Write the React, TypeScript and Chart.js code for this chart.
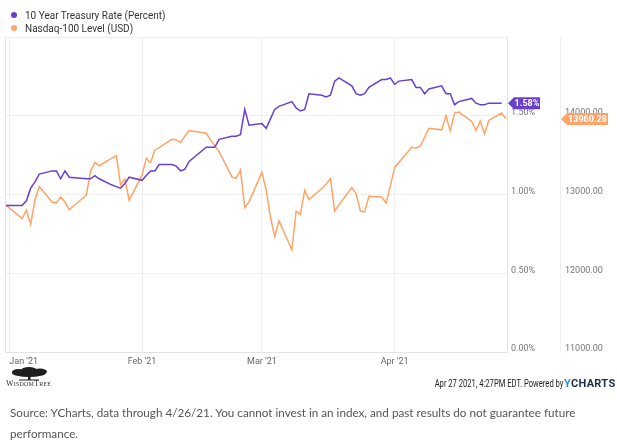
import React, { useEffect, useRef } from "react";
import { Chart, registerables } from "chart.js";

Chart.register(...registerables);

// ---------------- DATA ----------------
const treasuryDates = [
  "2020-12-31",
  "2021-01-04", "2021-01-05", "2021-01-06", "2021-01-07", "2021-01-08",
  "2021-01-11", "2021-01-12", "2021-01-13", "2021-01-14", "2021-01-15",
  "2021-01-19", "2021-01-20", "2021-01-21", "2021-01-22",
  "2021-01-25", "2021-01-26", "2021-01-27", "2021-01-28", "2021-01-29",
  "2021-02-01", "2021-02-02", "2021-02-03", "2021-02-04", "2021-02-05",
  "2021-02-08", "2021-02-09", "2021-02-10", "2021-02-11", "2021-02-12",
  "2021-02-16", "2021-02-17", "2021-02-18", "2021-02-19",
  "2021-02-22", "2021-02-23", "2021-02-24", "2021-02-25", "2021-02-26",
  "2021-03-01", "2021-03-02", "2021-03-03", "2021-03-04", "2021-03-05",
  "2021-03-08", "2021-03-09", "2021-03-10", "2021-03-11", "2021-03-12",
  "2021-03-15", "2021-03-16", "2021-03-17", "2021-03-18", "2021-03-19",
  "2021-03-22", "2021-03-23", "2021-03-24", "2021-03-25", "2021-03-26",
  "2021-03-29", "2021-03-30", "2021-03-31", "2021-04-01", "2021-04-02",
  "2021-04-05", "2021-04-06", "2021-04-07", "2021-04-08", "2021-04-09",
  "2021-04-12", "2021-04-13", "2021-04-14", "2021-04-15", "2021-04-16",
  "2021-04-19", "2021-04-20", "2021-04-21", "2021-04-22", "2021-04-23",
  "2021-04-26",
];
const treasuryValues = [
  0.93,
  0.93, 0.96, 1.04, 1.08, 1.13,
  1.15, 1.15, 1.10, 1.15, 1.11,
  1.10, 1.10, 1.12, 1.10,
  1.06, 1.05, 1.04, 1.07, 1.11,
  1.09, 1.12, 1.15, 1.15, 1.19,
  1.19, 1.18, 1.15, 1.16, 1.21,
  1.30, 1.30, 1.30, 1.35,
  1.37, 1.37, 1.38, 1.54, 1.44,
  1.45, 1.42, 1.48, 1.54, 1.56,
  1.59, 1.55, 1.53, 1.54, 1.64,
  1.63, 1.62, 1.63, 1.72, 1.74,
  1.69, 1.64, 1.63, 1.64, 1.68,
  1.73, 1.73, 1.74, 1.70, 1.72,
  1.73, 1.68, 1.68, 1.64, 1.67,
  1.69, 1.64, 1.64, 1.57, 1.59,
  1.61, 1.58, 1.57, 1.57, 1.58,
  1.58,
];

const nasdaqDates = [
  "2020-12-31",
  "2021-01-04", "2021-01-05", "2021-01-06", "2021-01-07", "2021-01-08",
  "2021-01-11", "2021-01-12", "2021-01-13", "2021-01-14", "2021-01-15",
  "2021-01-19", "2021-01-20", "2021-01-21", "2021-01-22",
  "2021-01-25", "2021-01-26", "2021-01-27", "2021-01-28", "2021-01-29",
  "2021-02-01", "2021-02-02", "2021-02-03", "2021-02-04", "2021-02-05",
  "2021-02-08", "2021-02-09", "2021-02-10", "2021-02-11", "2021-02-12",
  "2021-02-16", "2021-02-17", "2021-02-18", "2021-02-19",
  "2021-02-22", "2021-02-23", "2021-02-24", "2021-02-25", "2021-02-26",
  "2021-03-01", "2021-03-02", "2021-03-03", "2021-03-04", "2021-03-05",
  "2021-03-08", "2021-03-09", "2021-03-10", "2021-03-11", "2021-03-12",
  "2021-03-15", "2021-03-16", "2021-03-17", "2021-03-18", "2021-03-19",
  "2021-03-22", "2021-03-23", "2021-03-24", "2021-03-25", "2021-03-26",
  "2021-03-29", "2021-03-30", "2021-03-31", "2021-04-01",
  "2021-04-05", "2021-04-06", "2021-04-07", "2021-04-08", "2021-04-09",
  "2021-04-12", "2021-04-13", "2021-04-14", "2021-04-15", "2021-04-16",
  "2021-04-19", "2021-04-20", "2021-04-21", "2021-04-22", "2021-04-23",
  "2021-04-26", "2021-04-27",
];
const nasdaqValues = [
  12876,
  12694, 12800, 12621, 12930, 13100,
  12905, 12893, 12969, 12905, 12808,
  12991, 13301, 13408, 13365,
  13463, 13492, 13119, 13195, 12927,
  13246, 13459, 13404, 13566, 13595,
  13701, 13693, 13659, 13740, 13812,
  13777, 13693, 13620, 13544,
  13224, 13204, 13310, 12834, 12906,
  13281, 13055, 12714, 12468, 12663,
  12298, 12790, 12748, 13055, 12936,
  13076, 13132, 13204, 12790, 12868,
  13088, 13012, 12790, 12778, 12978,
  12969, 12893, 13106, 13344,
  13600, 13587, 13616, 13727, 13842,
  13821, 14000, 13808, 14034, 14046,
  13927, 13812, 13935, 13770, 13940,
  14034, 13960.28,
];

const monthTickDates = ["2021-01-01", "2021-02-01", "2021-03-01", "2021-04-01"];
const monthTickLabels = ["Jan '21", "Feb '21", "Mar '21", "Apr '21"];
const percentTicks = [0, 0.5, 1.0, 1.5, 2.0];
const nasdaqTicks = [11000, 12000, 13000, 14000, 15000];
const xStartDate = "2020-12-31";
const xEndDate = "2021-04-27";

const seriesNames = ["10 Year Treasury Rate (Percent)", "Nasdaq-100 Level (USD)"];
const PURPLE = "#6a3fd0";
const ORANGE = "#ffa366";

// --------------- helpers ---------------
const dayOf = (s: string) => {
  const [y, m, d] = s.split("-").map(Number);
  return (Date.UTC(y, m - 1, d) - Date.UTC(2021, 0, 1)) / 86400000;
};

const FONT = "Roboto, 'DejaVu Sans', sans-serif";
const X_MIN = dayOf(xStartDate);
const X_MAX = dayOf(xEndDate) + 0.25;

const tagPlugin = {
  id: "lastValueTags",
  afterDatasetsDraw(chart: any) {
    const { ctx, chartArea, scales } = chart;
    ctx.save();
    ctx.strokeStyle = "#e3e3e3";
    ctx.lineWidth = 1;
    ctx.beginPath();
    ctx.moveTo(Math.round(chartArea.left) + 0.5, chartArea.top);
    ctx.lineTo(Math.round(chartArea.left) + 0.5, chartArea.bottom);
    ctx.stroke();

    const drawTag = (y: number, tipX: number, rightX: number, color: string, text: string) => {
      const h = 12;
      const arrow = 6;
      ctx.fillStyle = color;
      ctx.beginPath();
      ctx.moveTo(tipX, y);
      ctx.lineTo(tipX + arrow, y - h / 2);
      ctx.lineTo(rightX, y - h / 2);
      ctx.lineTo(rightX, y + h / 2);
      ctx.lineTo(tipX + arrow, y + h / 2);
      ctx.closePath();
      ctx.fill();
      ctx.fillStyle = "#ffffff";
      ctx.font = `bold 9px ${FONT}`;
      ctx.textBaseline = "middle";
      ctx.textAlign = "center";
      ctx.fillText(text, (tipX + arrow + rightX) / 2, y + 0.5);
    };

    const lastT = treasuryValues[treasuryValues.length - 1];
    const lastN = nasdaqValues[nasdaqValues.length - 1];
    const yT = scales.y.getPixelForValue(lastT);
    const yN = scales.yN.getPixelForValue(lastN);
    drawTag(yT, scales.y.left + 1, scales.y.left + 33, PURPLE, lastT.toFixed(2) + "%");
    drawTag(yN, scales.yN.left + 1, scales.yN.left + 48, ORANGE, lastN.toFixed(2));
    ctx.restore();
  },
};

function ChartCanvas() {
  const ref = useRef<HTMLCanvasElement | null>(null);
  useEffect(() => {
    if (!ref.current) return;
    const tickFont = { family: FONT, size: 9 };
    const chart = new Chart(ref.current, {
      type: "line",
      data: {
        datasets: [
          {
            label: seriesNames[0],
            data: treasuryDates.map((d, i) => ({ x: dayOf(d), y: treasuryValues[i] })),
            borderColor: PURPLE,
            backgroundColor: PURPLE,
            borderWidth: 1.5,
            pointRadius: 0,
            tension: 0,
            yAxisID: "y",
          },
          {
            label: seriesNames[1],
            data: nasdaqDates.map((d, i) => ({ x: dayOf(d), y: nasdaqValues[i] })),
            borderColor: ORANGE,
            backgroundColor: ORANGE,
            borderWidth: 1.5,
            pointRadius: 0,
            tension: 0,
            yAxisID: "yN",
          },
        ],
      },
      options: {
        responsive: false,
        animation: false,
        events: [],
        layout: { autoPadding: false, padding: { top: 37, left: 5, right: 0, bottom: 0 } },
        plugins: { legend: { display: false }, tooltip: { enabled: false } },
        scales: {
          x: {
            type: "linear",
            min: X_MIN,
            max: X_MAX,
            afterBuildTicks: (axis: any) => {
              axis.ticks = [...monthTickDates.map((d) => ({ value: dayOf(d) })), { value: X_MAX }];
            },
            afterFit: (axis: any) => {
              axis.height = 16;
              axis.paddingLeft = 0;
              axis.paddingRight = 0;
            },
            ticks: {
              autoSkip: false,
              maxRotation: 0,
              minRotation: 0,
              align: "inner",
              padding: 4,
              color: "#666",
              font: tickFont,
              callback: (v: any) => {
                const i = monthTickDates.findIndex((d) => dayOf(d) === v);
                return i >= 0 ? monthTickLabels[i] : "";
              },
            },
            grid: { color: "#eeeeee", drawTicks: false },
            border: { display: true, color: "#e3e3e3" },
          },
          y: {
            type: "linear",
            position: "right",
            weight: 0,
            min: percentTicks[0],
            max: percentTicks[percentTicks.length - 1],
            afterBuildTicks: (axis: any) => {
              axis.ticks = percentTicks.map((v) => ({ value: v }));
            },
            afterFit: (axis: any) => {
              axis.width = 53;
            },
            ticks: {
              padding: 4,
              labelOffset: -3,
              color: "#777",
              font: tickFont,
              callback: (v: any) => (v >= percentTicks[percentTicks.length - 1] ? "" : Number(v).toFixed(2) + "%"),
            },
            grid: { color: "#eeeeee", drawTicks: false },
            border: { display: true, color: "#e3e3e3" },
          },
          yN: {
            type: "linear",
            position: "right",
            weight: 1,
            min: nasdaqTicks[0],
            max: nasdaqTicks[nasdaqTicks.length - 1],
            afterBuildTicks: (axis: any) => {
              axis.ticks = nasdaqTicks.map((v) => ({ value: v }));
            },
            afterFit: (axis: any) => {
              axis.width = 57;
            },
            ticks: {
              padding: 5,
              labelOffset: -3,
              color: "#777",
              font: tickFont,
              callback: (v: any) => (v >= nasdaqTicks[nasdaqTicks.length - 1] ? "" : Number(v).toFixed(2)),
            },
            grid: { display: false, drawTicks: false },
            border: { display: true, color: "#eeeeee" },
          },
        },
      },
      plugins: [tagPlugin],
    } as any);
    return () => chart.destroy();
  }, []);
  return (
    <canvas
      ref={ref}
      width={617}
      height={368}
      style={{ position: "absolute", left: 0, top: 0, width: 617, height: 368 }}
    />
  );
}

export default function App() {
  const legendColors = [PURPLE, ORANGE];
  return (
    <div
      style={{
        position: "fixed",
        left: 0,
        top: 0,
        width: 617,
        height: 446,
        background: "#fff",
        overflow: "hidden",
      }}
    >
      <ChartCanvas />
      {seriesNames.map((name, i) => (
        <div
          key={name}
          style={{
            position: "absolute",
            left: 11,
            top: 9 + i * 13,
            height: 12,
            display: "flex",
            alignItems: "center",
            fontFamily: FONT,
            fontSize: 10,
            color: "#333",
            whiteSpace: "nowrap",
          }}
        >
          <span
            style={{
              display: "inline-block",
              width: 6,
              height: 6,
              borderRadius: 3,
              background: legendColors[i],
              marginRight: 8,
            }}
          />
          {name}
        </div>
      ))}
      {/* WisdomTree logo */}
      <svg
        width={50}
        height={14}
        viewBox="0 0 50 14"
        style={{ position: "absolute", left: 5, top: 367 }}
      >
        <ellipse cx={24} cy={6} rx={17} ry={4} fill="#1f1f1f" />
        <ellipse cx={13} cy={5} rx={6} ry={3} fill="#1f1f1f" />
        <ellipse cx={35} cy={4.5} rx={7} ry={3} fill="#1f1f1f" />
        <ellipse cx={24} cy={3} rx={8} ry={3} fill="#1f1f1f" />
        <rect x={23} y={8} width={2.5} height={5} fill="#1f1f1f" />
        <rect x={14} y={12.5} width={20} height={1} fill="#1f1f1f" />
      </svg>
      <div
        style={{
          position: "absolute",
          left: 6,
          top: 379,
          fontFamily: "'Liberation Serif', serif",
          fontVariant: "small-caps",
          fontSize: 8,
          letterSpacing: 0.2,
          color: "#333",
          whiteSpace: "nowrap",
        }}
      >
        WisdomTree
      </div>
      {/* timestamp / powered by */}
      <div
        style={{
          position: "absolute",
          right: 617 - 563,
          top: 378,
          fontFamily: FONT,
          fontSize: 10,
          color: "#222",
          whiteSpace: "nowrap",
          transform: "scaleX(0.76)",
          transformOrigin: "right center",
        }}
      >
        Apr 27 2021, 4:27PM EDT. Powered by
      </div>
      <div
        style={{
          position: "absolute",
          left: 564,
          top: 377,
          fontFamily: FONT,
          fontWeight: 700,
          fontSize: 11,
          letterSpacing: 0.3,
          whiteSpace: "nowrap",
          color: "#1c2b4d",
        }}
      >
        <span style={{ color: "#2d8ae6" }}>Y</span>CHARTS
      </div>
      {/* source note */}
      <div
        style={{
          position: "absolute",
          left: 10,
          top: 402,
          fontFamily: "Lato, 'Open Sans', sans-serif",
          fontSize: 11.7,
          lineHeight: "21px",
          color: "#555",
          whiteSpace: "nowrap",
        }}
      >
        Source: YCharts, data through 4/26/21. You cannot invest in an index, and past results do not guarantee future
        <br />
        performance.
      </div>
    </div>
  );
}
